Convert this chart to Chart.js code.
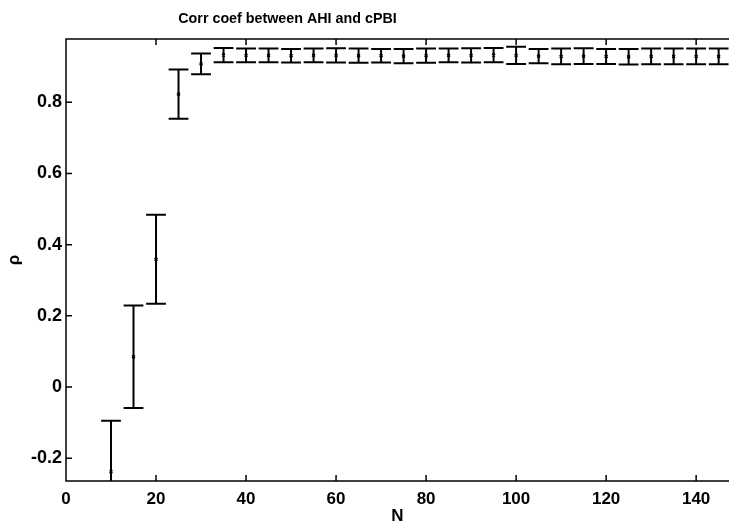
<!DOCTYPE html>
<html>
<head>
<meta charset="utf-8">
<script src="https://cdn.jsdelivr.net/npm/chart.js@4/dist/chart.umd.min.js"></script>
<style>
  html, body { margin: 0; padding: 0; background: #fff; }
</style>
</head>
<body>
<canvas id="chart" width="729" height="524"></canvas>
<script>
// data
var nValues = [10, 15, 20, 25, 30, 35, 40, 45, 50, 55, 60, 65, 70, 75,
               80, 85, 90, 95, 100, 105, 110, 115, 120, 125, 130, 135, 140, 145];
var rhoMean = [-0.238, 0.085, 0.359, 0.823, 0.908, 0.933, 0.932, 0.932, 0.931, 0.932,
               0.932, 0.931, 0.931, 0.930, 0.931, 0.932, 0.932, 0.933, 0.932, 0.930,
               0.929, 0.930, 0.929, 0.928, 0.929, 0.929, 0.929, 0.929];
var rhoErr  = [0.143, 0.144, 0.125, 0.069, 0.029, 0.020, 0.019, 0.019, 0.019, 0.019,
               0.020, 0.020, 0.019, 0.020, 0.020, 0.019, 0.020, 0.020, 0.024, 0.020,
               0.022, 0.022, 0.021, 0.022, 0.022, 0.022, 0.022, 0.022];
var xTicks = [0, 20, 40, 60, 80, 100, 120, 140];
var yTicks = [-0.2, 0, 0.2, 0.4, 0.6, 0.8];
var titleText = "Corr coef between AHI and cPBI";

var fontFam = '"Liberation Sans", Arial, sans-serif';
Chart.defaults.font.family = fontFam;
Chart.defaults.color = '#000';

var points = [];
for (var i = 0; i < nValues.length; i++) {
  points.push({x: nValues[i], y: rhoMean[i]});
}

// error bars, drawn through the chart's scales
var errorBars = {
  id: 'errorBars',
  afterDatasetsDraw: function(chart) {
    var ctx = chart.ctx, xs = chart.scales.x, ys = chart.scales.y, a = chart.chartArea;
    ctx.save();
    ctx.beginPath();
    ctx.rect(a.left, a.top, chart.width - a.left, a.bottom - a.top);
    ctx.clip();
    ctx.strokeStyle = '#000';
    ctx.lineWidth = 2;
    var half = (xs.getPixelForValue(2.2) - xs.getPixelForValue(0));
    for (var i = 0; i < nValues.length; i++) {
      var px = xs.getPixelForValue(nValues[i]);
      var top = ys.getPixelForValue(rhoMean[i] + rhoErr[i]);
      var bot = ys.getPixelForValue(rhoMean[i] - rhoErr[i]);
      ctx.beginPath();
      ctx.moveTo(px, top); ctx.lineTo(px, bot);
      ctx.moveTo(px - half, top); ctx.lineTo(px + half, top);
      ctx.moveTo(px - half, bot); ctx.lineTo(px + half, bot);
      ctx.stroke();
    }
    ctx.restore();
  }
};

// axes box with inward ticks, plus title
var axesBox = {
  id: 'axesBox',
  afterDraw: function(chart) {
    var ctx = chart.ctx, xs = chart.scales.x, ys = chart.scales.y, a = chart.chartArea;
    ctx.save();
    ctx.strokeStyle = '#000';
    ctx.lineWidth = 1.5;
    ctx.beginPath();
    ctx.moveTo(chart.width, a.top); ctx.lineTo(a.left, a.top);
    ctx.lineTo(a.left, a.bottom); ctx.lineTo(chart.width, a.bottom);
    var i, p;
    for (i = 0; i < xTicks.length; i++) {
      p = xs.getPixelForValue(xTicks[i]);
      ctx.moveTo(p, a.bottom); ctx.lineTo(p, a.bottom - 6);
      ctx.moveTo(p, a.top); ctx.lineTo(p, a.top + 6);
    }
    for (i = 0; i < yTicks.length; i++) {
      p = ys.getPixelForValue(yTicks[i]);
      ctx.moveTo(a.left, p); ctx.lineTo(a.left + 6, p);
    }
    ctx.stroke();

    ctx.fillStyle = '#000';
    ctx.font = 'bold 14.3px ' + fontFam;
    ctx.textAlign = 'center';
    ctx.textBaseline = 'middle';
    ctx.fillText(titleText, 287.5, 19);
    ctx.restore();
  }
};

new Chart(document.getElementById('chart'), {
  type: 'scatter',
  data: {
    datasets: [{
      data: points,
      pointStyle: 'crossRot',
      pointRadius: 2,
      pointBorderWidth: 1.5,
      borderColor: '#000',
      backgroundColor: '#000'
    }]
  },
  options: {
    responsive: false,
    animation: false,
    layout: { autoPadding: false, padding: { left: 0, top: 39, right: 0, bottom: 0 } },
    plugins: { legend: { display: false }, tooltip: { enabled: false } },
    scales: {
      x: {
        type: 'linear',
        min: 0, max: 147.3,
        grid: { display: false, drawTicks: false },
        border: { display: false },
        afterBuildTicks: function(s) { s.ticks = xTicks.map(function(v) { return {value: v}; }); },
        afterFit: function(s) { s.height = 43; s.paddingLeft = 0; s.paddingRight = 0; },
        ticks: { font: { size: 17, weight: 'bold' }, padding: 8, maxRotation: 0,
                 callback: function(v) { return String(v); } },
        title: { display: true, text: 'N', font: { size: 17, weight: 'bold' }, padding: { top: 0, bottom: -3 } }
      },
      y: {
        type: 'linear',
        min: -0.264, max: 0.978,
        grid: { display: false, drawTicks: false },
        border: { display: false },
        afterBuildTicks: function(s) { s.ticks = yTicks.map(function(v) { return {value: v}; }); },
        afterFit: function(s) { s.width = 66; s.paddingTop = 0; s.paddingBottom = 0; },
        ticks: { font: { size: 18, weight: 'bold' }, padding: 4,
                 callback: function(v) { return String(Math.round(v * 10) / 10); } },
        title: { display: true, text: '\u03c1', font: { size: 17, weight: 'bold' }, padding: { top: 4, bottom: 0 } }
      }
    }
  },
  plugins: [errorBars, axesBox]
});
</script>
</body>
</html>
